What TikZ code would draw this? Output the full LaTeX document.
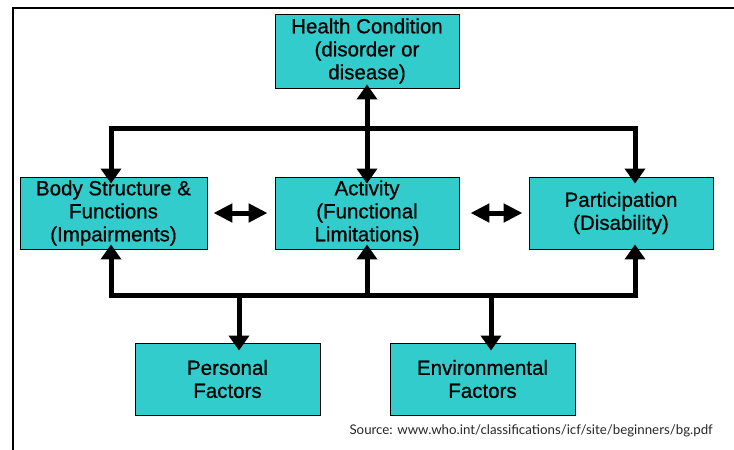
\documentclass[tikz,border=0pt]{standalone}
\usepackage{fontspec}
\setmainfont{Liberation Sans}[FakeBold=0.6]
\newfontfamily\srcfont{Lato}
\usetikzlibrary{arrows.meta}
\definecolor{boxteal}{HTML}{33CCCC}
\begin{document}
\begin{tikzpicture}[x=1pt,y=-1pt,
  box/.style={draw=black, line width=0.9pt, fill=boxteal, align=center, inner sep=0pt,
    font=\fontsize{20.5}{23}\selectfont},
  wire/.style={line width=5pt},
  arr/.style={line width=5pt, -{Triangle[width=20pt,length=15pt]}},
  darr/.style={line width=5pt, {Triangle[width=18pt,length=19pt]}-{Triangle[width=18pt,length=19pt]}},
  frameline/.style={line width=2pt}]
\useasboundingbox (0,0) rectangle (734,450);
% frame
\coordinate (fa) at (13,451);
\coordinate (fb) at (13,8);
\coordinate (fc) at (735,8);
\draw[frameline] (fa) -- (fb) -- (fc);
% boxes
\node[box, minimum width=184pt, minimum height=74pt] (hc) at (367,51) {Health Condition\\(disorder or\\disease)};
\node[box, minimum width=187pt, minimum height=72pt] (body) at (113.5,213) {Body Structure \&\\Functions\\(Impairments)};
\node[box, minimum width=184pt, minimum height=72pt] (act) at (367,213) {Activity\\(Functional\\Limitations)};
\node[box, minimum width=184pt, minimum height=72pt] (part) at (621,213) {Participation\\(Disability)};
\node[box, minimum width=185pt, minimum height=72pt] (pers) at (227.5,379) {Personal\\Factors};
\node[box, minimum width=185pt, minimum height=72pt] (env) at (482.5,379) {Environmental\\Factors};
\node[anchor=east, inner sep=0pt, font=\srcfont\fontsize{13.3}{15}\selectfont, text=black!85] (src) at (713,431) {Source: www.who.int/classifications/icf/site/beginners/bg.pdf};
% top bar
\coordinate (tl) at (111,128);
\coordinate (tm) at (367,128);
\coordinate (tr) at (635,128);
\draw[wire] ([xshift=-2.5pt]tl) -- ([xshift=2.5pt]tr);
\draw[arr] (tm) -- ([yshift=4pt]hc.south);
\draw[arr] (tl) -- ([yshift=-7pt]body.north -| tl);
\draw[arr] (tm) -- ([yshift=-7pt]act.north);
\draw[arr] (tr) -- ([yshift=-7pt]part.north -| tr);
% bottom bar
\coordinate (bl) at (111,295);
\coordinate (bm) at (367,295);
\coordinate (br) at (635,295);
\coordinate (bp) at (239,295);
\coordinate (be) at (491,295);
\draw[wire] ([xshift=-2.5pt]bl) -- ([xshift=2.5pt]br);
\draw[arr] (bl) -- ([yshift=5pt]body.south -| bl);
\draw[arr] (bm) -- ([yshift=5pt]act.south);
\draw[arr] (br) -- ([yshift=5pt]part.south -| br);
\draw[arr] (bp) -- ([yshift=-8pt]pers.north -| bp);
\draw[arr] (be) -- ([yshift=-8pt]env.north -| be);
% double arrows
\draw[darr] ([xshift=6pt]body.east) -- ([xshift=-7pt]act.west);
\draw[darr] ([xshift=11pt]act.east) -- ([xshift=-6pt]part.west);
\end{tikzpicture}
\end{document}
